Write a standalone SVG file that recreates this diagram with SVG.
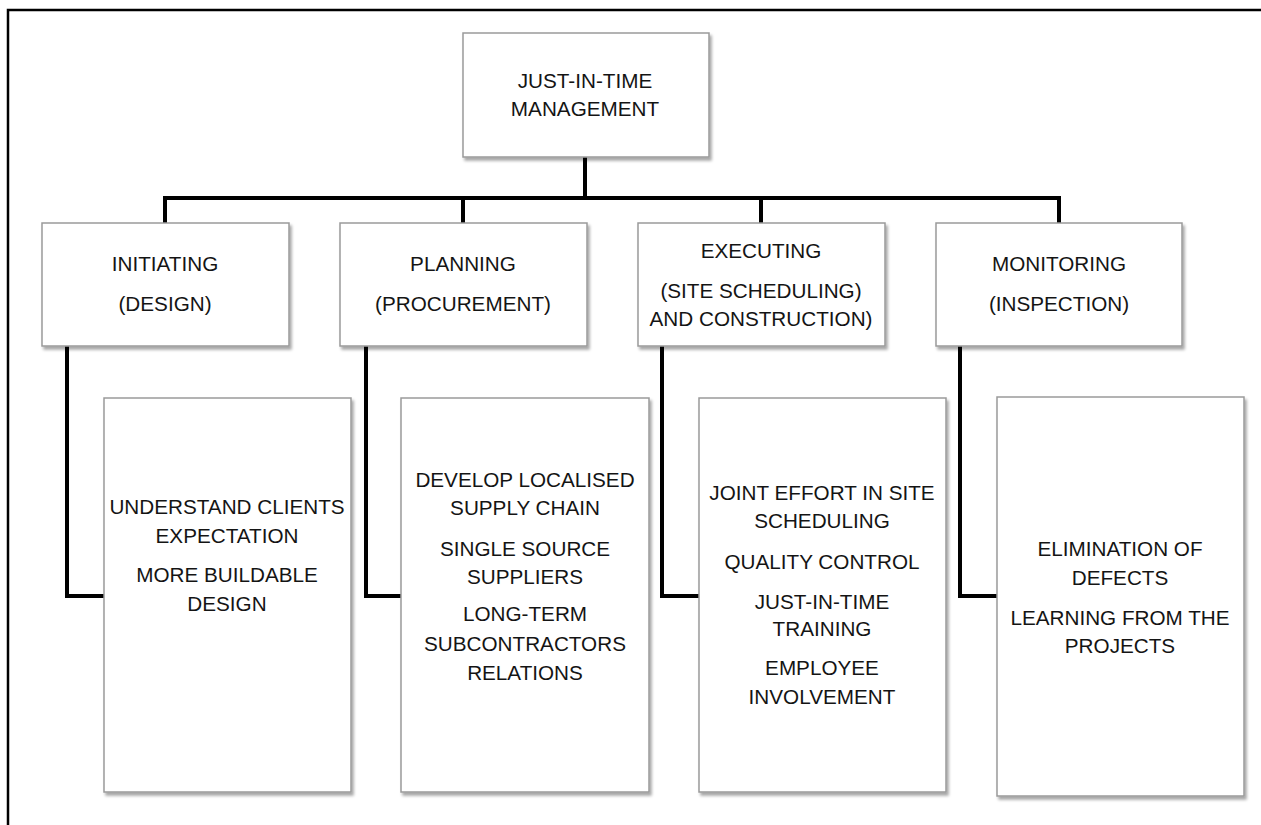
<svg xmlns="http://www.w3.org/2000/svg" width="1261" height="825" viewBox="0 0 1261 825">
<defs>
<filter id="sh" x="-5%" y="-5%" width="112%" height="112%">
<feDropShadow dx="2" dy="3" stdDeviation="1.5" flood-color="#000" flood-opacity="0.35"/>
</filter>
</defs>
<style>
.box{fill:#fff;stroke:#9a9a9a;stroke-width:1.5;filter:url(#sh)}
.t{font-family:"Liberation Sans",Arial,sans-serif;font-size:20.7px;fill:#141414;text-anchor:middle;dominant-baseline:central}
.c{fill:none;stroke:#000;stroke-width:4;stroke-linejoin:miter}
</style>
<rect x="0" y="0" width="1261" height="825" fill="#fff"/>
<path d="M8 825 V10 H1261" fill="none" stroke="#000" stroke-width="2.5"/>
<g id="connectors">
<path class="c" d="M585 157 V198"/>
<path class="c" d="M165 223 V198 H1059 V223"/>
<path class="c" d="M463 198 V223"/>
<path class="c" d="M761 198 V223"/>
<path class="c" d="M67 346 V596 H104"/>
<path class="c" d="M366 346 V596 H401"/>
<path class="c" d="M662 346 V596 H699"/>
<path class="c" d="M960 346 V596 H997"/>
</g>
<g id="root">
<rect class="box" x="463" y="33" width="246" height="124"/>
<text class="t" x="585" y="80">JUST-IN-TIME</text>
<text class="t" x="585" y="108">MANAGEMENT</text>
</g>
<g id="initiating">
<rect class="box" x="42" y="223" width="247" height="123"/>
<text class="t" x="165" y="263">INITIATING</text>
<text class="t" x="165" y="303">(DESIGN)</text>
</g>
<g id="planning">
<rect class="box" x="340" y="223" width="247" height="123"/>
<text class="t" x="463" y="263">PLANNING</text>
<text class="t" x="463" y="303">(PROCUREMENT)</text>
</g>
<g id="executing">
<rect class="box" x="638" y="223" width="247" height="123"/>
<text class="t" x="761" y="250">EXECUTING</text>
<text class="t" x="761" y="290">(SITE SCHEDULING)</text>
<text class="t" x="761" y="318">AND CONSTRUCTION)</text>
</g>
<g id="monitoring">
<rect class="box" x="936" y="223" width="246" height="123"/>
<text class="t" x="1059" y="263">MONITORING</text>
<text class="t" x="1059" y="303">(INSPECTION)</text>
</g>
<g id="design-items">
<rect class="box" x="104" y="398" width="247" height="394"/>
<text class="t" x="227" y="506">UNDERSTAND CLIENTS</text>
<text class="t" x="227" y="535">EXPECTATION</text>
<text class="t" x="227" y="574">MORE BUILDABLE</text>
<text class="t" x="227" y="603">DESIGN</text>
</g>
<g id="procurement-items">
<rect class="box" x="401" y="398" width="248" height="394"/>
<text class="t" x="525" y="479">DEVELOP LOCALISED</text>
<text class="t" x="525" y="507">SUPPLY CHAIN</text>
<text class="t" x="525" y="548">SINGLE SOURCE</text>
<text class="t" x="525" y="576">SUPPLIERS</text>
<text class="t" x="525" y="613">LONG-TERM</text>
<text class="t" x="525" y="643">SUBCONTRACTORS</text>
<text class="t" x="525" y="672">RELATIONS</text>
</g>
<g id="execution-items">
<rect class="box" x="699" y="398" width="247" height="394"/>
<text class="t" x="822" y="492">JOINT EFFORT IN SITE</text>
<text class="t" x="822" y="520">SCHEDULING</text>
<text class="t" x="822" y="561">QUALITY CONTROL</text>
<text class="t" x="822" y="601">JUST-IN-TIME</text>
<text class="t" x="822" y="628">TRAINING</text>
<text class="t" x="822" y="667">EMPLOYEE</text>
<text class="t" x="822" y="696">INVOLVEMENT</text>
</g>
<g id="inspection-items">
<rect class="box" x="997" y="397" width="247" height="399"/>
<text class="t" x="1120" y="548">ELIMINATION OF</text>
<text class="t" x="1120" y="577">DEFECTS</text>
<text class="t" x="1120" y="617">LEARNING FROM THE</text>
<text class="t" x="1120" y="645">PROJECTS</text>
</g>
</svg>
